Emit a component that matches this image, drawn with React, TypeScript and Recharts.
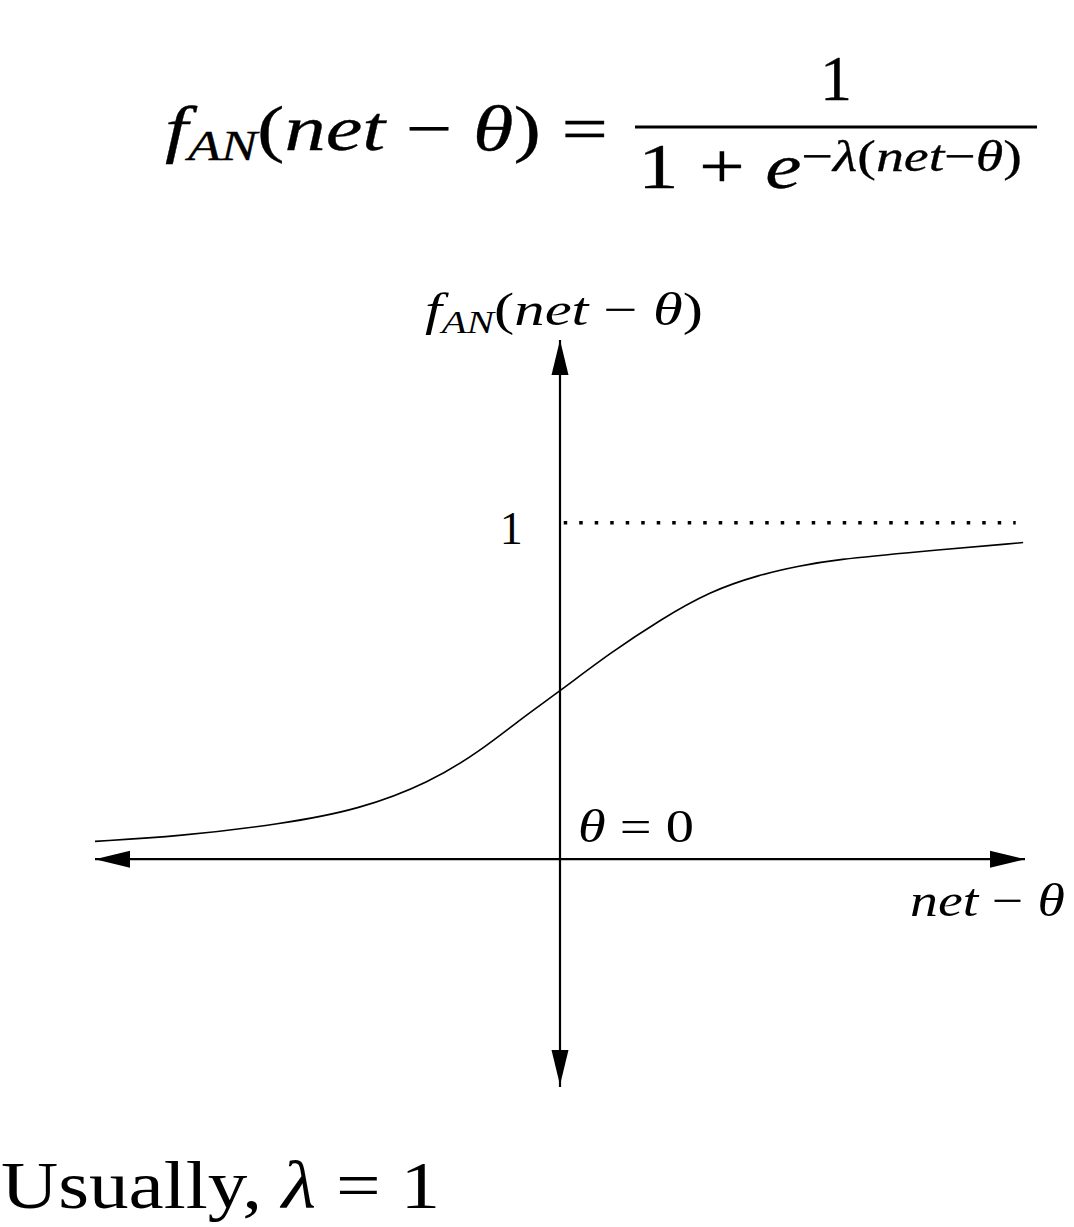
import React from 'react';
import { LineChart, Line, XAxis, YAxis, ReferenceLine, Label } from 'recharts';

// sigmoid curve (net - theta, f_AN)
const netTheta = [-5, -4.1, -3, -2.15, -1.4, -0.86, -0.43, 0, 0.54, 1.08, 1.61, 2.15, 2.58, 2.95, 3.85, 4.98];
const fAN = [0.053, 0.068, 0.104, 0.148, 0.228, 0.321, 0.415, 0.5, 0.613, 0.712, 0.796, 0.846, 0.872, 0.89, 0.914, 0.941];

const xDomain = [-5, 5];
const yDomain = [-0.677, 1.543];
const asymptote = 1;
const asymptoteRange = [0.04, 4.9];

const data = netTheta.map((x, i) => ({ x, y: fAN[i] }));

const SERIF = '"Liberation Serif", "DejaVu Serif", serif';

// axis line with an arrowhead on both ends
const ArrowAxis = (props: any) => {
  const { x1, y1, x2, y2 } = props;
  const L = 35;
  const W = 8.5;
  const horiz = Math.abs(x2 - x1) > Math.abs(y2 - y1);
  let heads: string[];
  if (horiz) {
    const a = Math.min(x1, x2);
    const b = Math.max(x1, x2);
    heads = [
      `${a},${y1} ${a + L},${y1 - W} ${a + L},${y1 + W}`,
      `${b},${y1} ${b - L},${y1 - W} ${b - L},${y1 + W}`,
    ];
  } else {
    const a = Math.min(y1, y2);
    const b = Math.max(y1, y2) - 2;
    heads = [
      `${x1},${a} ${x1 - W},${a + L} ${x1 + W},${a + L}`,
      `${x1},${b} ${x1 - W},${b - L} ${x1 + W},${b - L}`,
    ];
  }
  return (
    <g>
      <line x1={x1} y1={y1} x2={x2} y2={y2} stroke="#000" strokeWidth={2.2} />
      {heads.map((p, i) => (
        <polygon key={i} points={p} fill="#000" />
      ))}
    </g>
  );
};

const yAxisLabel = (props: any) => {
  const { viewBox } = props;
  const cx = viewBox.x;
  return (
    <text x={cx - 135} y={325} fontFamily={SERIF} fontSize={46} textLength={278} lengthAdjust="spacingAndGlyphs">
      <tspan fontStyle="italic">f</tspan>
      <tspan fontStyle="italic" fontSize={31} dy={8}>AN</tspan>
      <tspan dy={-8}>(</tspan>
      <tspan fontStyle="italic">net</tspan>
      <tspan> − </tspan>
      <tspan fontStyle="italic">θ</tspan>
      <tspan>)</tspan>
    </text>
  );
};

const xAxisLabel = (props: any) => {
  const { viewBox } = props;
  const y = viewBox.y;
  return (
    <g fontFamily={SERIF} fontSize={46}>
      <text x={578} y={y - 17} textLength={116} lengthAdjust="spacingAndGlyphs">
        <tspan fontStyle="italic">θ</tspan>
        <tspan> = 0</tspan>
      </text>
      <text x={910} y={y + 57} textLength={155} lengthAdjust="spacingAndGlyphs">
        <tspan fontStyle="italic">net</tspan>
        <tspan> − </tspan>
        <tspan fontStyle="italic">θ</tspan>
      </text>
    </g>
  );
};

const oneLabel = (props: any) => {
  const { viewBox } = props;
  return (
    <text x={viewBox.x - 41} y={viewBox.y + 21} textAnchor="end" fontFamily={SERIF} fontSize={46}>
      1
    </text>
  );
};

export default function App() {
  return (
    <div style={{ position: 'absolute', left: 0, top: 0, width: 1074, height: 1227, background: '#fff' }}>
      <LineChart
        width={1074}
        height={1227}
        data={data}
        margin={{ top: 340, right: 49, bottom: 140, left: 95 }}
      >
        <XAxis dataKey="x" type="number" domain={xDomain} hide />
        <YAxis type="number" domain={yDomain} hide />
        <ReferenceLine y={0} shape={ArrowAxis}>
          <Label content={xAxisLabel} />
        </ReferenceLine>
        <ReferenceLine x={0} shape={ArrowAxis}>
          <Label content={yAxisLabel} />
        </ReferenceLine>
        <ReferenceLine
          segment={[
            { x: asymptoteRange[0], y: asymptote },
            { x: asymptoteRange[1], y: asymptote },
          ]}
          stroke="#000"
          strokeWidth={3.5}
          strokeDasharray="3.5 12"
        >
          <Label content={oneLabel} />
        </ReferenceLine>
        <Line
          type="basis"
          dataKey="y"
          stroke="#000"
          strokeWidth={1.6}
          dot={false}
          isAnimationActive={false}
        />
      </LineChart>

      <svg
        width={1074}
        height={1227}
        style={{ position: 'absolute', left: 0, top: 0, pointerEvents: 'none' }}
      >
        <g fontFamily={SERIF} fill="#000" stroke="#000" strokeWidth={0.3}>
          <text x={165} y={150} fontSize={64} textLength={443} lengthAdjust="spacingAndGlyphs">
            <tspan fontStyle="italic">f</tspan>
            <tspan fontStyle="italic" fontSize={42} dy={10}>AN</tspan>
            <tspan dy={-10}>(</tspan>
            <tspan fontStyle="italic">net</tspan>
            <tspan> − </tspan>
            <tspan fontStyle="italic">θ</tspan>
            <tspan>) =</tspan>
          </text>
          <text x={836} y={100} fontSize={64} textAnchor="middle">1</text>
          <line x1={635} y1={127} x2={1037} y2={127} strokeWidth={3} />
          <text x={638} y={188} fontSize={64} textLength={384} lengthAdjust="spacingAndGlyphs">
            <tspan>1 + </tspan>
            <tspan fontStyle="italic">e</tspan>
            <tspan fontSize={44} dy={-17}>−</tspan>
            <tspan fontSize={44} fontStyle="italic">λ</tspan>
            <tspan fontSize={44}>(</tspan>
            <tspan fontSize={44} fontStyle="italic">net</tspan>
            <tspan fontSize={44}>−</tspan>
            <tspan fontSize={44} fontStyle="italic">θ</tspan>
            <tspan fontSize={44}>)</tspan>
          </text>
        </g>
        <text x={1} y={1208} fontFamily={SERIF} fontSize={68} textLength={439} lengthAdjust="spacingAndGlyphs">
          <tspan>Usually, </tspan>
          <tspan fontStyle="italic">λ</tspan>
          <tspan> = 1</tspan>
        </text>
      </svg>
    </div>
  );
}
